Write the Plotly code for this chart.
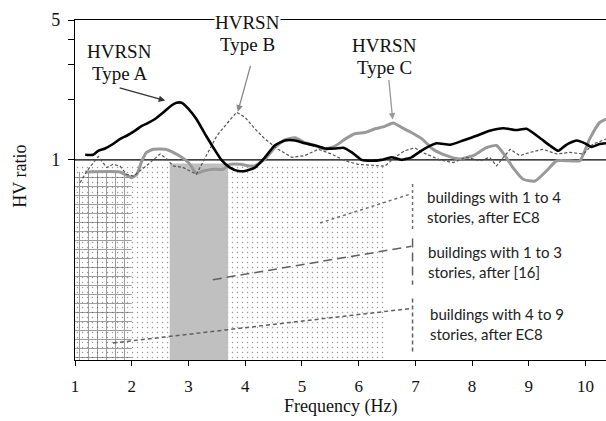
import numpy as np
import plotly.graph_objects as go

# ---- HV spectral ratios (frequency in Hz, ratio on a log axis) ----
freq_a = [1.18, 1.32, 1.41, 1.53, 1.67, 1.79, 1.91, 2.06, 2.18, 2.29, 2.41, 2.56, 2.70, 2.79,
          2.88, 3.00, 3.14, 3.29, 3.44, 3.58, 3.73, 3.88, 4.00, 4.17, 4.35, 4.52, 4.70, 4.88,
          5.05, 5.23, 5.41, 5.58, 5.73, 5.88, 6.05, 6.23, 6.40, 6.58, 6.76, 6.93, 7.10, 7.37,
          7.61, 7.84, 8.08, 8.31, 8.55, 8.78, 8.96, 9.19, 9.37, 9.52, 9.66, 9.84, 9.99, 10.10,
          10.25, 10.36]
hv_a = [1.06, 1.06, 1.11, 1.14, 1.20, 1.27, 1.32, 1.40, 1.48, 1.53, 1.60, 1.73, 1.87, 1.93,
        1.93, 1.80, 1.60, 1.35, 1.15, 1.00, 0.915, 0.88, 0.88, 0.915, 1.03, 1.18, 1.25, 1.25,
        1.21, 1.18, 1.14, 1.14, 1.15, 1.09, 1.00, 0.99, 1.00, 1.03, 1.00, 1.03, 1.11, 1.21,
        1.19, 1.25, 1.32, 1.40, 1.44, 1.41, 1.43, 1.29, 1.18, 1.11, 1.19, 1.25, 1.21, 1.16,
        1.20, 1.21]

freq_b = [1.09, 1.21, 1.41, 1.56, 1.67, 1.79, 1.91, 2.03, 2.18, 2.29, 2.50, 2.62, 2.73, 2.91,
          3.14, 3.32, 3.50, 3.67, 3.85, 4.00, 4.17, 4.35, 4.58, 4.82, 5.05, 5.29, 5.52, 5.76,
          5.99, 6.23, 6.46, 6.64, 6.81, 6.99, 7.12, 7.26, 7.43, 7.67, 7.90, 8.14, 8.31, 8.43,
          8.55, 8.67, 8.84, 9.02, 9.25, 9.49, 9.72, 9.96, 10.13, 10.36]
hv_b = [0.77, 0.88, 1.04, 0.915, 0.95, 0.933, 0.847, 0.83, 0.898, 0.95, 1.07, 1.01, 0.933,
        0.915, 0.847, 1.05, 1.32, 1.51, 1.73, 1.63, 1.43, 1.27, 1.13, 1.03, 1.05, 1.13, 1.07,
        0.99, 0.95, 0.94, 0.93, 1.03, 1.11, 1.15, 1.09, 1.05, 1.00, 0.97, 1.03, 0.99, 1.03,
        0.933, 1.03, 1.13, 1.05, 1.09, 1.13, 1.07, 1.09, 1.07, 1.20, 1.27]

freq_c = [1.18, 1.79, 1.91, 2.00, 2.09, 2.18, 2.26, 2.38, 2.59, 2.73, 2.88, 3.00, 3.14, 3.26,
          3.44, 3.61, 3.73, 3.91, 4.08, 4.17, 4.35, 4.52, 4.70, 4.88, 5.05, 5.23, 5.41, 5.58,
          5.76, 5.93, 6.11, 6.29, 6.46, 6.61, 6.76, 6.93, 7.12, 7.31, 7.55, 7.78, 8.02, 8.25,
          8.43, 8.58, 8.72, 8.90, 9.11, 9.31, 9.49, 9.72, 9.90, 10.07, 10.25, 10.36]
hv_c = [0.87, 0.87, 0.838, 0.815, 0.847, 0.99, 1.09, 1.13, 1.13, 1.09, 1.03, 0.97, 0.857,
        0.88, 0.898, 0.898, 0.95, 0.95, 0.933, 0.933, 1.01, 1.15, 1.26, 1.29, 1.22, 1.18,
        1.13, 1.17, 1.27, 1.35, 1.37, 1.43, 1.47, 1.53, 1.45, 1.37, 1.27, 1.13, 1.05, 1.01,
        1.05, 1.15, 1.18, 1.05, 0.915, 0.80, 0.784, 0.88, 0.99, 0.99, 0.99, 1.27, 1.54, 1.60]

# ---- fundamental-frequency bands of building classes ----
band_ec8_1to4 = (1.0, 6.49)      # dotted band
band_ref16_1to3 = (2.67, 3.70)   # grey band
band_ec8_4to9 = (1.0, 2.0)       # grid band
band_top_dots = 0.96
band_top_grid = 0.873

x_ticks = [1, 2, 3, 4, 5, 6, 7, 8, 9, 10]
y_ticks = [1, 2, 3, 4, 5]
y_tick_text = ["1", "", "", "", "5"]

X_MIN, X_MAX = 1.0, 10.36
Y_MIN, Y_MAX = 0.1, 5.0

SERIF = "Liberation Serif"
SANS = "Lato"


def rect(x0, x1, top):
    return [x0, x1, x1, x0, x0], [Y_MIN, Y_MIN, top, top, Y_MIN]


fig = go.Figure()

# dotted band (EC8, 1-4 storeys)
rx, ry = rect(*band_ec8_1to4, band_top_dots)
fig.add_trace(go.Scatter(
    x=rx, y=ry, mode="lines", line=dict(width=0), fill="toself",
    fillcolor="rgba(0,0,0,0)",
    fillpattern=dict(shape=".", fgcolor="#333333", bgcolor="white", size=5, solidity=0.07),
    hoverinfo="skip", showlegend=False))

# grey band (ref [16], 1-3 storeys)
rx, ry = rect(*band_ref16_1to3, band_top_dots)
fig.add_trace(go.Scatter(
    x=rx, y=ry, mode="lines", line=dict(width=0), fill="toself",
    fillcolor="#c0c0c0", hoverinfo="skip", showlegend=False))

# grid band (EC8, 4-9 storeys)
rx, ry = rect(*band_ec8_4to9, band_top_grid)
fig.add_trace(go.Scatter(
    x=rx, y=ry, mode="lines", line=dict(width=0), fill="toself",
    fillcolor="rgba(0,0,0,0)",
    fillpattern=dict(shape="+", fgcolor="#333333", bgcolor="rgba(0,0,0,0)", size=9,
                     solidity=0.2, fillmode="overlay"),
    hoverinfo="skip", showlegend=False))

# leader lines and brackets for the band labels
BRACKET_X = 6.95
leaders = [
    ([5.32, 6.93], [0.484, 0.677], [0.758, 0.450], "dot", "#707070"),
    ([3.43, 6.93], [0.252, 0.370], [0.405, 0.238], "9px,5px", "#606060"),
    ([1.67, 6.93], [0.1216, 0.181], [0.203, 0.1096], "4px,3px", "#606060"),
]
for lx, ly, by, dash, col in leaders:
    fig.add_trace(go.Scatter(x=lx, y=ly, mode="lines",
                             line=dict(color=col, width=1.5, dash=dash),
                             hoverinfo="skip", showlegend=False))
    fig.add_trace(go.Scatter(x=[BRACKET_X, BRACKET_X], y=by, mode="lines",
                             line=dict(color=col, width=1.5, dash=dash),
                             hoverinfo="skip", showlegend=False))

# reference line HV = 1
fig.add_trace(go.Scatter(x=[X_MIN, X_MAX], y=[1, 1], mode="lines",
                         line=dict(color="black", width=1.3),
                         hoverinfo="skip", showlegend=False))

# HV ratio curves
fig.add_trace(go.Scatter(x=freq_c, y=hv_c, mode="lines", name="HVRSN Type C",
                         line=dict(color="#999999", width=3, shape="spline", smoothing=0.5),
                         showlegend=False))
fig.add_trace(go.Scatter(x=freq_b, y=hv_b, mode="lines", name="HVRSN Type B",
                         line=dict(color="#555555", width=1.2, dash="3px,2px"),
                         showlegend=False))
fig.add_trace(go.Scatter(x=freq_a, y=hv_a, mode="lines", name="HVRSN Type A",
                         line=dict(color="black", width=2.6, shape="spline", smoothing=0.5),
                         showlegend=False))

annotations = []


def arrow(tail, head, color):
    annotations.append(dict(
        x=head[0], y=np.log10(head[1]), ax=tail[0], ay=np.log10(tail[1]),
        xref="x", yref="y", axref="x", ayref="y", text="", showarrow=True,
        arrowhead=2, arrowsize=1, arrowwidth=1.3, arrowcolor=color))


arrow((1.76, 2.30), (2.59, 1.98), "#333333")
arrow((4.10, 3.00), (3.87, 1.74), "#888888")
arrow((6.53, 2.55), (6.60, 1.59), "#999999")


def label(x, y, text, font, size, anchor="center", bg=None):
    d = dict(x=x, y=y, xref="paper", yref="paper", text=text, showarrow=False,
             xanchor=anchor, yanchor="middle",
             font=dict(family=font, size=size, color="#111111"))
    if bg:
        d["bgcolor"] = bg
        d["borderpad"] = 0
    annotations.append(d)


for xp, y1, y2, name, bg in [(0.0847, 0.906, 0.844, "Type A", None),
                             (0.324, 0.992, 0.929, "Type B", "white"),
                             (0.582, 0.924, 0.859, "Type C", None)]:
    label(xp, y1, "HVRSN", SERIF, 19, bg=bg)
    label(xp, y2, name, SERIF, 19)

# band labels
px = lambda v: (v - X_MIN) / (X_MAX - X_MIN)
band_labels = [
    (7.17, 0.480, "buildings with 1 to 4"), (7.17, 0.421, "stories, after EC8"),
    (7.19, 0.318, "buildings with 1 to 3"), (7.19, 0.259, "stories, after [16]"),
    (7.22, 0.135, "buildings with 4 to 9"), (7.22, 0.076, "stories, after EC8"),
]
for bx, by, t in band_labels:
    annotations.append(dict(x=px(bx), y=by, xref="paper", yref="paper", text=t,
                            showarrow=False, xanchor="left", yanchor="middle",
                            font=dict(family=SANS, size=15, color="#222222")))

# axis titles
annotations.append(dict(x=(340 - 75) / 531, y=-0.138, xref="paper", yref="paper",
                        text="Frequency (Hz)", showarrow=False, xanchor="center",
                        yanchor="middle", font=dict(family=SERIF, size=18, color="#111111")))
annotations.append(dict(x=-0.104, y=(360 - 176) / 340, xref="paper", yref="paper",
                        text="HV ratio", showarrow=False, textangle=-90, xanchor="center",
                        yanchor="middle", font=dict(family=SERIF, size=18, color="#111111")))

fig.update_layout(
    width=606, height=421,
    margin=dict(l=75, r=0, t=20, b=61),
    paper_bgcolor="white", plot_bgcolor="white",
    annotations=annotations,
    xaxis=dict(range=[X_MIN, X_MAX], tickvals=x_ticks, ticks="outside", ticklen=5,
               tickcolor="black", showline=True, linecolor="black", linewidth=1.2,
               mirror=True, showgrid=False, zeroline=False, ticklabelstandoff=5,
               tickfont=dict(family=SERIF, size=17, color="#111111")),
    yaxis=dict(type="log", range=[np.log10(Y_MIN), np.log10(Y_MAX)], tickvals=y_ticks,
               ticktext=y_tick_text, ticks="outside", ticklen=6, tickcolor="black",
               showline=True, linecolor="black", linewidth=1.2, showgrid=False,
               zeroline=False, ticklabelstandoff=4,
               tickfont=dict(family=SERIF, size=18, color="#111111")),
)

fig.write_html("out.html")
